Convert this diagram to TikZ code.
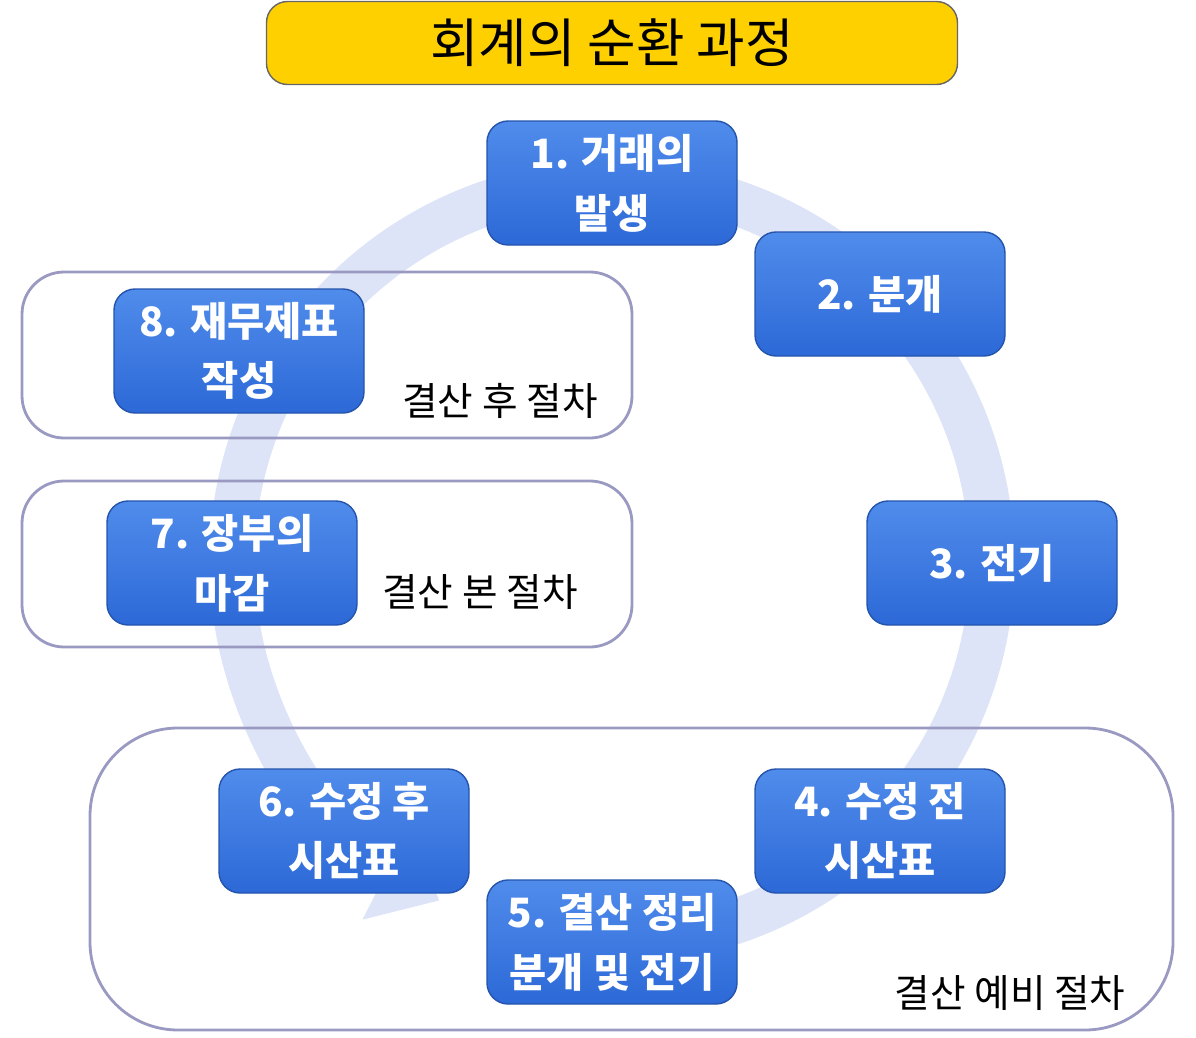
\documentclass[tikz,border=0pt]{standalone}
\usepackage{fontspec}
\setmainfont{Noto Sans CJK KR}
\usetikzlibrary{arrows.meta}
\definecolor{stepblue}{RGB}{45,105,215}
\definecolor{steptop}{RGB}{80,140,235}
\definecolor{ringblue}{RGB}{222,228,248}
\definecolor{titleyellow}{RGB}{255,208,0}
\tikzset{
  stepbox/.style={rounded corners=6pt, top color=steptop, bottom color=stepblue,
    draw=stepblue!80!black, minimum width=25mm, minimum height=12.4mm,
    align=center, text=white, font=\bfseries\fontsize{11.5}{17}\selectfont},
  groupbox/.style={draw=black!60!blue!40, rounded corners=12pt, thick},
  grouplabel/.style={font=\fontsize{11}{13}\selectfont}
}
\begin{document}
\begin{tikzpicture}[x=0.1mm,y=-0.1mm]
  \useasboundingbox (0,0) rectangle (1196,1038);
  % Title
  \node[draw=black!60, fill=titleyellow, rounded corners=6pt, minimum width=69.1mm,
    minimum height=8.3mm, font=\fontsize{15}{18}\selectfont] (title) at (612,43) {회계의 순환 과정};

  % Ring arrow
  \draw[ringblue, line width=4.5mm, -{Triangle[length=6mm, width=10mm]}]
    (612,562) ++(80:380) arc[start angle=80, end angle=-243, radius=380];

  % Groups
  \draw[groupbox] (22,272) rectangle (632,438);
  \node[grouplabel] (postlbl) at (500,401) {결산 후 절차};
  \draw[groupbox] (22,481) rectangle (632,647);
  \node[grouplabel] (mainlbl) at (480,592) {결산 본 절차};
  \draw[groupbox, rounded corners=25pt] (90,728) rectangle (1173,1030);
  \node[grouplabel] (prelbl) at (1010,993) {결산 예비 절차};

  % Steps
  \node[stepbox] (s1) at (612,183) {1. 거래의\\발생};
  \node[stepbox] (s2) at (880,294) {2. 분개};
  \node[stepbox] (s3) at (992,563) {3. 전기};
  \node[stepbox] (s4) at (880,831) {4. 수정 전\\시산표};
  \node[stepbox] (s5) at (612,942) {5. 결산 정리\\분개 및 전기};
  \node[stepbox] (s6) at (344,831) {6. 수정 후\\시산표};
  \node[stepbox] (s7) at (232,563) {7. 장부의\\마감};
  \node[stepbox] (s8) at (239,351) {8. 재무제표\\작성};
\end{tikzpicture}
\end{document}
